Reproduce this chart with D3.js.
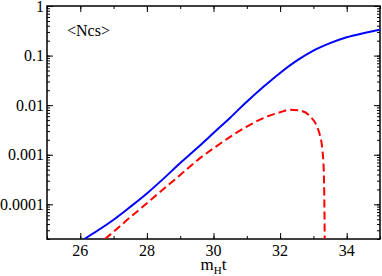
<!DOCTYPE html>
<html>
<head>
<meta charset="utf-8">
<script src="https://cdn.jsdelivr.net/npm/d3@7"></script>
<style>
  body { margin: 0; background: #fff; }
  text { font-family: "Liberation Serif", "Times New Roman", serif; }
</style>
</head>
<body>
<script>
// blue solid curve
var blueX = [26.12, 26.5, 27.0, 27.5, 28.0, 28.5, 29.0, 29.5, 30.0, 30.5, 31.0, 31.5, 32.0, 32.5, 33.0, 33.5, 34.0, 34.5, 35.0];
var blueY = [2.0e-5, 2.9e-5, 4.9e-5, 8.9e-5, 1.66e-4, 3.3e-4, 6.8e-4, 1.35e-3, 2.75e-3, 5.6e-3, 0.0117, 0.0234, 0.0447, 0.079, 0.126, 0.178, 0.234, 0.282, 0.331];

// red dashed curve
var redX = [26.74, 27.0, 27.5, 28.0, 28.5, 29.0, 29.5, 30.0, 30.5, 31.0, 31.5, 32.0, 32.3, 32.6, 32.9, 33.1, 33.2, 33.27, 33.31, 33.33, 33.34];
var redY = [2.0e-5, 2.8e-5, 5.5e-5, 1.05e-4, 2.04e-4, 3.9e-4, 7.6e-4, 1.35e-3, 2.3e-3, 3.7e-3, 5.5e-3, 7.2e-3, 8.1e-3, 7.8e-3, 6.0e-3, 3.8e-3, 2.4e-3, 1.26e-3, 5.0e-4, 1.0e-4, 2.0e-5];

var xTicks = [26, 28, 30, 32, 34];
var yTicks = [1, 0.1, 0.01, 0.001, 0.0001];
var yTickLabels = ["1", "0.1", "0.01", "0.001", "0.0001"];

var W = 382, H = 276;
var margin = {top: 6, right: 2, bottom: 37, left: 47};

var svg = d3.select('body').append('svg')
    .attr('width', W)
    .attr('height', H);

var x = d3.scaleLinear().domain([25, 35]).range([margin.left, W - margin.right]);
var y = d3.scaleLog().domain([2e-5, 1]).range([H - margin.bottom, margin.top]);

svg.append('defs').append('clipPath').attr('id', 'clip')
  .append('rect')
    .attr('x', x(25)).attr('y', y(1))
    .attr('width', x(35) - x(25)).attr('height', y(2e-5) - y(1));

// minor ticks
var xMinor = d3.range(25, 36, 1);
var yMinor = [];
[1e-5, 1e-4, 1e-3, 1e-2, 1e-1].forEach(function(d) {
  for (var k = 1; k < 10; k++) {
    var v = d * k;
    if (v >= 2e-5 && v <= 1) yMinor.push(v);
  }
});

var axes = svg.append('g');

// bottom / top
axes.append('g').attr('transform', 'translate(0,' + y(2e-5) + ')')
  .call(d3.axisBottom(x).tickValues(xTicks).tickSize(-6).tickFormat(''));
axes.append('g').attr('transform', 'translate(0,' + y(2e-5) + ')')
  .call(d3.axisBottom(x).tickValues(xMinor).tickSize(-3).tickFormat(''));
axes.append('g').attr('transform', 'translate(0,' + y(1) + ')')
  .call(d3.axisTop(x).tickValues(xTicks).tickSize(-6).tickFormat(''));
axes.append('g').attr('transform', 'translate(0,' + y(1) + ')')
  .call(d3.axisTop(x).tickValues(xMinor).tickSize(-3).tickFormat(''));

// left / right
axes.append('g').attr('transform', 'translate(' + x(25) + ',0)')
  .call(d3.axisLeft(y).tickValues(yTicks).tickSize(-6).tickFormat(''));
axes.append('g').attr('transform', 'translate(' + x(25) + ',0)')
  .call(d3.axisLeft(y).tickValues(yMinor).tickSize(-3).tickFormat(''));
axes.append('g').attr('transform', 'translate(' + x(35) + ',0)')
  .call(d3.axisRight(y).tickValues(yTicks).tickSize(-6).tickFormat(''));
axes.append('g').attr('transform', 'translate(' + x(35) + ',0)')
  .call(d3.axisRight(y).tickValues(yMinor).tickSize(-3).tickFormat(''));

axes.selectAll('.domain').remove();
axes.selectAll('line').attr('stroke', '#000').attr('stroke-width', 1);

// frame
svg.append('rect')
  .attr('x', x(25)).attr('y', y(1))
  .attr('width', x(35) - x(25)).attr('height', y(2e-5) - y(1))
  .attr('fill', 'none').attr('stroke', '#000').attr('stroke-width', 1.5);

// tick labels
svg.selectAll('.xl').data(xTicks).enter().append('text')
  .attr('x', function(d) { return x(d); })
  .attr('y', y(2e-5) + 17)
  .attr('text-anchor', 'middle')
  .attr('font-size', 16)
  .text(function(d) { return d; });

svg.selectAll('.yl').data(yTicks).enter().append('text')
  .attr('x', x(25) - 3)
  .attr('y', function(d) { return y(d) + 5.5; })
  .attr('text-anchor', 'end')
  .attr('font-size', 16)
  .text(function(d, i) { return yTickLabels[i]; });

// axis label
var xl = svg.append('text')
  .attr('x', x(30))
  .attr('y', H - 6)
  .attr('text-anchor', 'middle')
  .attr('font-size', 17);
xl.append('tspan').text('m');
xl.append('tspan').attr('font-size', 11).attr('dy', 4).text('H');
xl.append('tspan').attr('dy', -4).text('t');

svg.append('text')
  .attr('x', 67).attr('y', 36)
  .attr('font-size', 16)
  .text('<Ncs>');

var line = d3.line()
  .x(function(d) { return x(d[0]); })
  .y(function(d) { return y(d[1]); })
  .curve(d3.curveMonotoneX);

var plot = svg.append('g').attr('clip-path', 'url(#clip)');

plot.append('path')
  .datum(d3.zip(redX, redY))
  .attr('d', line)
  .attr('fill', 'none')
  .attr('stroke', '#ff0000')
  .attr('stroke-width', 2)
  .attr('stroke-dasharray', '8,4');

plot.append('path')
  .datum(d3.zip(blueX, blueY))
  .attr('d', line)
  .attr('fill', 'none')
  .attr('stroke', '#0000ff')
  .attr('stroke-width', 2);
</script>
</body>
</html>
